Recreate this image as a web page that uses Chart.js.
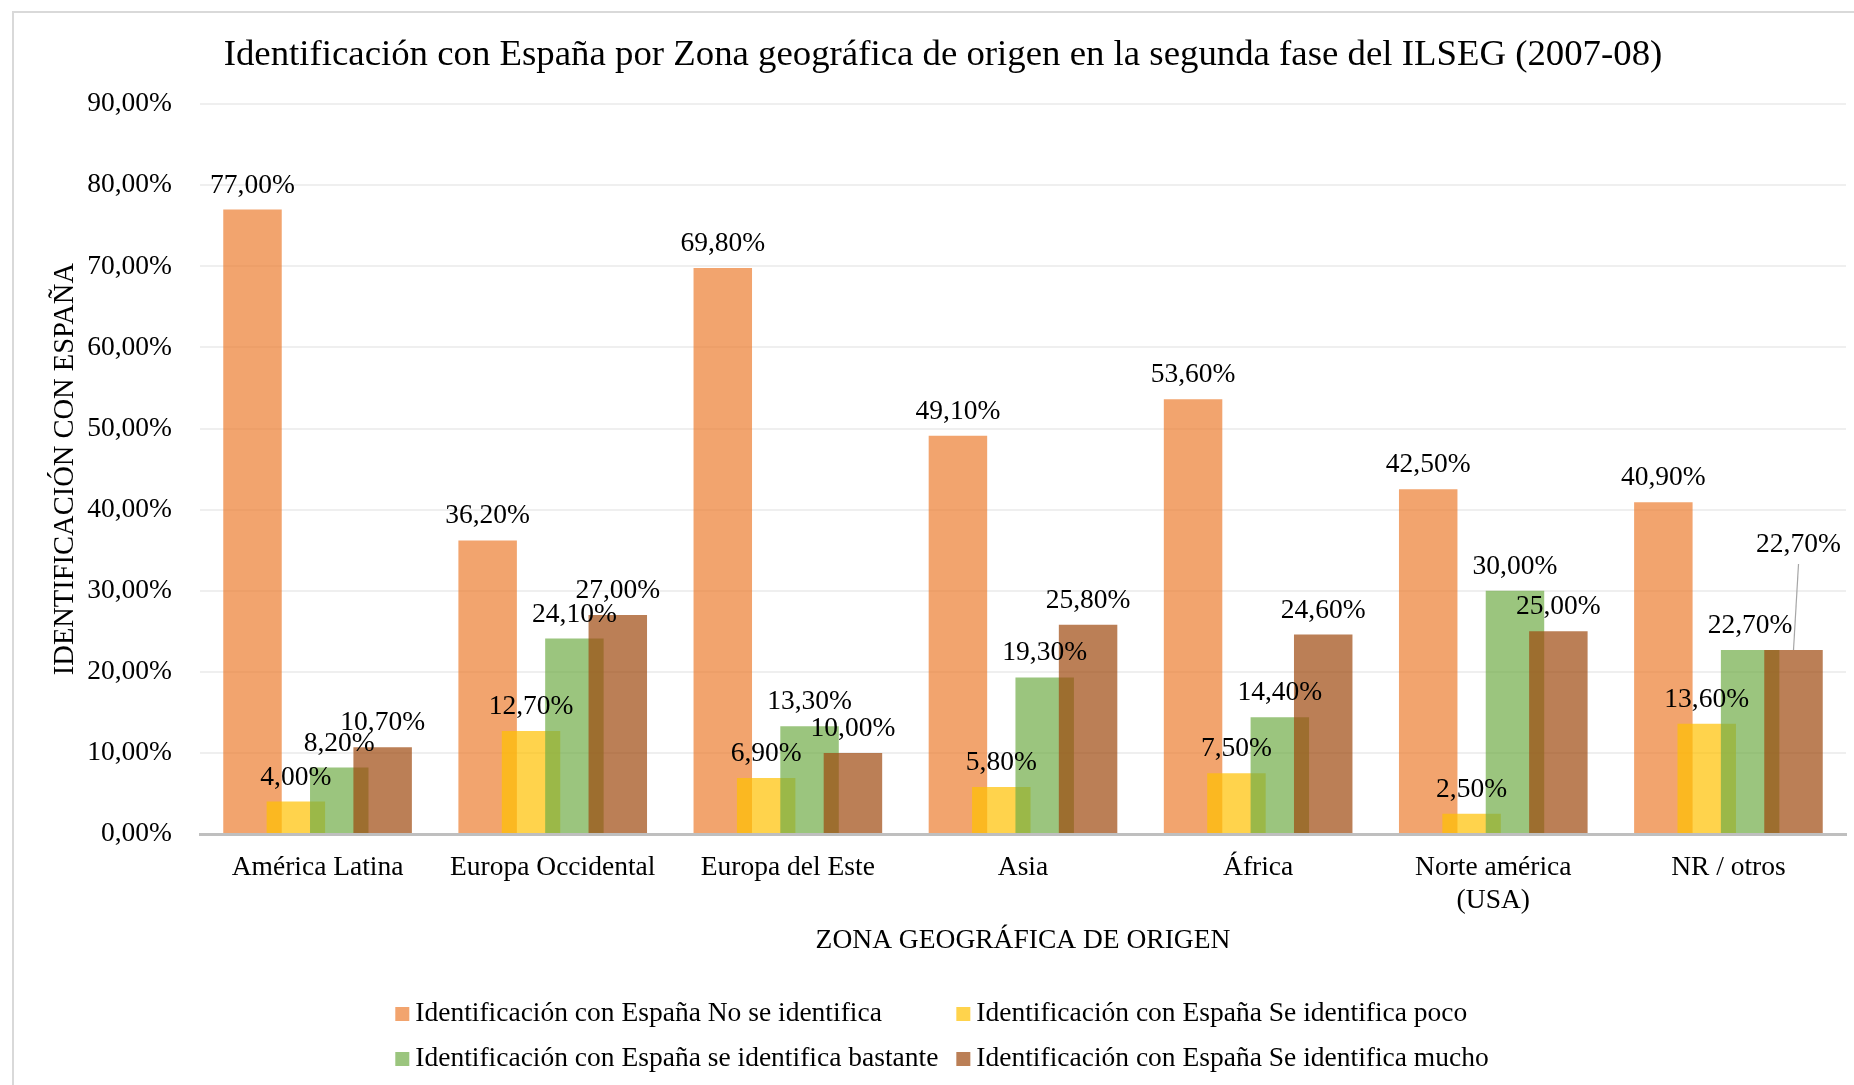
<!DOCTYPE html>
<html>
<head>
<meta charset="utf-8">
<script src="https://cdn.jsdelivr.net/npm/chart.js@4.4.1/dist/chart.umd.min.js"></script>
<style>
  html, body { margin: 0; padding: 0; background: #fff; }
</style>
</head>
<body>
<canvas id="grafico-identificacion" width="1854" height="1085"></canvas>
<script>
// Datos del gráfico (porcentajes)
const zonas = ['América Latina', 'Europa Occidental', 'Europa del Este', 'Asia', 'África', ['Norte américa', '(USA)'], 'NR / otros'];
const noSeIdentifica = [77.0, 36.2, 69.8, 49.1, 53.6, 42.5, 40.9];
const seIdentificaPoco = [4.0, 12.7, 6.9, 5.8, 7.5, 2.5, 13.6];
const seIdentificaBastante = [8.2, 24.1, 13.3, 19.3, 14.4, 30.0, 22.7];
const seIdentificaMucho = [10.7, 27.0, 10.0, 25.8, 24.6, 25.0, 22.7];
const nombresSeries = [
  'Identificación con España No se identifica',
  'Identificación con España Se identifica poco',
  'Identificación con España se identifica bastante',
  'Identificación con España Se identifica mucho'
];

const FUENTE = '"Liberation Serif", "Times New Roman", serif';
Chart.defaults.font.family = FUENTE;
Chart.defaults.color = '#000';

/**
 * Formatea un valor como porcentaje con coma decimal
 * @param {number} v - Valor
 */
function formatoPct(v) {
  return v.toFixed(2).replace('.', ',') + '%';
}

// Fondo blanco y marco del área del gráfico
const marco = {
  id: 'marco',
  beforeDraw(chart) {
    const ctx = chart.ctx;
    ctx.save();
    ctx.fillStyle = '#fff';
    ctx.fillRect(0, 0, chart.width, chart.height);
    ctx.strokeStyle = '#D9D9D9';
    ctx.lineWidth = 2;
    ctx.beginPath();
    ctx.moveTo(13, chart.height);
    ctx.lineTo(13, 12);
    ctx.lineTo(chart.width, 12);
    ctx.stroke();
    ctx.restore();
  }
};

// Dibujar las series en orden (la última encima), como en Excel
const ordenSeries = {
  id: 'ordenSeries',
  beforeDatasetsDraw(chart) {
    const ctx = chart.ctx;
    const a = chart.chartArea;
    ctx.save();
    ctx.beginPath();
    ctx.rect(a.left, a.top - 2, a.right - a.left, a.bottom - a.top + 2);
    ctx.clip();
    chart.data.datasets.forEach((ds, i) => {
      chart.getDatasetMeta(i).controller.draw();
    });
    ctx.restore();
    return false;
  }
};

// Etiquetas de datos sobre cada barra
const etiquetas = {
  id: 'etiquetas',
  afterDraw(chart) {
    const ctx = chart.ctx;
    ctx.save();
    ctx.font = '27.5px ' + FUENTE;
    ctx.fillStyle = '#000';
    ctx.textAlign = 'center';
    ctx.textBaseline = 'alphabetic';
    chart.data.datasets.forEach((ds, i) => {
      chart.getDatasetMeta(i).data.forEach((barra, j) => {
        let x = barra.x;
        let y = barra.y - 17;
        // la etiqueta de "mucho" en NR / otros va desplazada con línea guía
        if (i === 3 && j === 6) {
          x += 5;
          y -= 81;
          ctx.save();
          ctx.strokeStyle = '#A6A6A6';
          ctx.lineWidth = 1.2;
          ctx.beginPath();
          ctx.moveTo(x, y + 12);
          ctx.lineTo(barra.x, barra.y);
          ctx.stroke();
          ctx.restore();
        }
        ctx.fillText(formatoPct(ds.data[j]), x, y);
      });
    });
    ctx.restore();
  }
};

// Leyenda en dos columnas
const leyenda = {
  id: 'leyenda',
  afterDraw(chart) {
    const ctx = chart.ctx;
    const datasets = chart.data.datasets;
    ctx.save();
    ctx.font = '27.5px ' + FUENTE;
    ctx.textBaseline = 'middle';
    ctx.textAlign = 'left';
    const caja = 14, hueco = 6, sepCol = 18;
    const anchoCol = [0, 1].map(c => {
      let m = 0;
      datasets.forEach((ds, i) => { if (i % 2 === c) m = Math.max(m, ctx.measureText(ds.label).width); });
      return caja + hueco + m;
    });
    const total = anchoCol[0] + sepCol + anchoCol[1];
    const x0 = 942 - total / 2;
    const filasY = [1014, 1059];
    datasets.forEach((ds, i) => {
      const col = i % 2, fila = Math.floor(i / 2);
      const x = col === 0 ? x0 : x0 + anchoCol[0] + sepCol;
      const y = filasY[fila];
      ctx.fillStyle = ds.backgroundColor;
      ctx.fillRect(x, y - caja / 2, caja, caja);
      ctx.fillStyle = '#000';
      ctx.fillText(ds.label, x + caja + hueco, y);
    });
    ctx.restore();
  }
};

const valores = [noSeIdentifica, seIdentificaPoco, seIdentificaBastante, seIdentificaMucho];
const colores = ['rgba(237, 125, 49, 0.7)', 'rgba(255, 192, 0, 0.7)', 'rgba(112, 173, 71, 0.7)', 'rgba(158, 72, 14, 0.7)'];

const canvas = document.getElementById('grafico-identificacion');
new Chart(canvas, {
  type: 'bar',
  data: {
    labels: zonas,
    datasets: valores.map((serie, i) => ({
      label: nombresSeries[i],
      data: serie,
      backgroundColor: colores[i],
      borderWidth: 0,
      categoryPercentage: 0.738,
      barPercentage: 1.348
    }))
  },
  options: {
    responsive: false,
    animation: false,
    layout: {
      padding: { top: 0, left: 40, right: 8, bottom: 128 }
    },
    plugins: {
      legend: { display: false },
      tooltip: { enabled: false },
      title: {
        display: true,
        text: 'Identificación con España por Zona geográfica de origen en la segunda fase del ILSEG (2007-08)',
        font: { size: 36.8, weight: 'normal' },
        color: '#000',
        padding: { top: 33, bottom: 27 }
      }
    },
    scales: {
      x: {
        grid: { display: false, drawTicks: false },
        border: { display: true, color: '#BFBFBF', width: 3 },
        ticks: { padding: 17, maxRotation: 0, autoSkip: false, font: { size: 27.5 }, color: '#000' },
        title: {
          display: true,
          text: 'ZONA GEOGRÁFICA DE ORIGEN',
          font: { size: 27.5 },
          color: '#000',
          padding: { top: -10, bottom: 0 }
        }
      },
      y: {
        min: 0,
        max: 90,
        afterFit(scale) { scale.width = 160; },
        grid: { color: '#EFEFEF', lineWidth: 2, drawTicks: false },
        border: { display: false },
        ticks: {
          stepSize: 10,
          padding: 28,
          font: { size: 27.5 },
          color: '#000',
          callback: function(value) { return formatoPct(value); }
        },
        title: {
          display: true,
          text: 'IDENTIFICACIÓN CON ESPAÑA',
          font: { size: 28.5 },
          color: '#000',
          padding: { top: 8, bottom: 0 }
        }
      }
    }
  },
  plugins: [marco, ordenSeries, etiquetas, leyenda]
});
</script>
</body>
</html>
